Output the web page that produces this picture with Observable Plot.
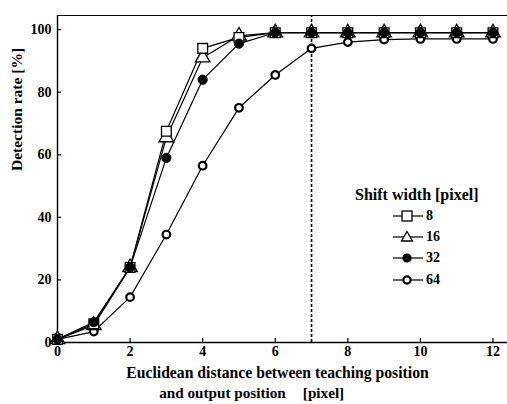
<!DOCTYPE html>
<html>
<head>
<meta charset="utf-8">
<script src="https://cdn.jsdelivr.net/npm/d3@7"></script>
<script src="https://cdn.jsdelivr.net/npm/@observablehq/plot@0.6"></script>
<style>
  html, body { margin: 0; padding: 0; background: #fff; }
  #wrap { position: relative; width: 507px; height: 404px; font-family: "Liberation Serif", "Times New Roman", serif; }
  #legend { position: absolute; left: 355px; top: 185px; color: #000; }
  #legend .title { font-size: 16px; font-weight: bold; white-space: nowrap; line-height: 20px; }
  #legend .item { display: flex; align-items: center; height: 21.3px; margin-left: 38px; font-size: 14px; font-weight: bold; }
  #legend svg { display: block; margin-right: 3px; }
</style>
</head>
<body>
<div id="wrap"></div>
<script>
// ---- data ----
const distances = [0, 1, 2, 3, 4, 5, 6, 7, 8, 9, 10, 11, 12];
const shift8  = [1, 6, 24, 67.5, 94, 97.5, 99, 99, 99, 99, 99, 99, 99];
const shift16 = [1, 5.5, 24, 65.5, 91, 98, 99, 99, 99, 99, 99, 99, 99];
const shift32 = [1, 6.5, 24, 59, 84, 95.5, 99, 99, 99, 99, 99, 99, 99];
const shift64 = [1, 3.5, 14.5, 34.5, 56.5, 75, 85.5, 94, 96, 96.8, 97, 97, 97];
const seriesNames = ["8", "16", "32", "64"];
const xTicks = [0, 2, 4, 6, 8, 10, 12];
const yTicks = [0, 20, 40, 60, 80, 100];
const markerLine = 7; // vertical dashed line at distance 7

const seriesValues = [shift8, shift16, shift32, shift64];
const rows = seriesNames.flatMap((name, k) =>
  distances.map((d, i) => ({series: name, x: d, y: seriesValues[k][i]})));
const bySeries = name => rows.filter(r => r.series === name);

const xMax = 12.4, yMax = 104.5;
const font = '"Liberation Serif", "Times New Roman", serif';

const chart = Plot.plot({
  width: 507,
  height: 404,
  marginLeft: 57,
  marginRight: 0,
  marginTop: 15,
  marginBottom: 62,
  style: {fontFamily: font, fontSize: "14px", color: "#000", background: "#fff"},
  x: {domain: [0, xMax]},
  y: {domain: [0, yMax]},
  marks: [
    // frame (top, left, bottom)
    Plot.ruleY([yMax], {stroke: "#000", strokeWidth: 1.2}),
    Plot.ruleX([0], {stroke: "#000", strokeWidth: 1.4}),
    Plot.ruleY([0], {stroke: "#000", strokeWidth: 1.4}),
    // inward ticks
    Plot.ruleX(xTicks, {y1: 0, y2: 1.3, stroke: "#000", strokeWidth: 1.2}),
    Plot.ruleY(yTicks, {x1: 0, x2: 0.11, stroke: "#000", strokeWidth: 1.2}),
    Plot.axisX({ticks: xTicks, tickSize: 0, tickPadding: 4, fontWeight: "bold", fontSize: 14, label: null}),
    Plot.axisY({ticks: yTicks, tickSize: 0, tickPadding: 6, fontWeight: "bold", fontSize: 14, label: null}),
    // dashed line
    Plot.ruleX([markerLine], {y1: 0, y2: yMax, stroke: "#000", strokeWidth: 1.6, strokeDasharray: "3,2"}),
    // lines
    Plot.line(bySeries("64"), {x: "x", y: "y", stroke: "#000", strokeWidth: 1.2}),
    Plot.line(bySeries("32"), {x: "x", y: "y", stroke: "#000", strokeWidth: 1.2}),
    Plot.line(bySeries("16"), {x: "x", y: "y", stroke: "#000", strokeWidth: 1.2}),
    Plot.line(bySeries("8"), {x: "x", y: "y", stroke: "#000", strokeWidth: 1.2}),
    // markers
    Plot.dot(bySeries("64"), {x: "x", y: "y", symbol: "circle", r: 3.8, fill: "#fff", stroke: "#000", strokeWidth: 2.2}),
    Plot.dot(bySeries("16"), {x: "x", y: "y", symbol: "triangle", r: 5.4, fill: "#fff", stroke: "#000", strokeWidth: 1.3}),
    Plot.dot(bySeries("8"), {x: "x", y: "y", symbol: "square", r: 5.5, fill: "#fff", stroke: "#000", strokeWidth: 1.3}),
    Plot.dot(bySeries("32"), {x: "x", y: "y", symbol: "circle", r: 4.6, fill: "#000", stroke: "#000", strokeWidth: 1}),
    // axis titles
    Plot.text(["Euclidean distance between teaching position"], {frameAnchor: "bottom", dy: 30, dx: -5, text: d => d, fontSize: 15.7, fontWeight: "bold", lineAnchor: "middle"}),
    Plot.text(["and output position"], {frameAnchor: "bottom", dy: 51, dx: -60, text: d => d, fontSize: 15.2, fontWeight: "bold", lineAnchor: "middle"}),
    Plot.text(["[pixel]"], {frameAnchor: "bottom", dy: 51, dx: 41, text: d => d, fontSize: 15.2, fontWeight: "bold", lineAnchor: "middle"}),
    Plot.text(["Detection rate [%]"], {frameAnchor: "left", dx: -40, dy: -8, rotate: -90, text: d => d, fontSize: 15.5, fontWeight: "bold", lineAnchor: "middle"})
  ]
});

const wrap = document.getElementById("wrap");
wrap.appendChild(chart);

// legend
const legend = document.createElement("div");
legend.id = "legend";
const title = document.createElement("div");
title.className = "title";
title.textContent = "Shift width [pixel]";
legend.appendChild(title);
const legendSymbols = {
  "8":  '<rect x="9" y="5" width="10" height="10" fill="#fff" stroke="#000" stroke-width="1.3"/>',
  "16": '<path d="M14,4.5 L19.5,14 L8.5,14 Z" fill="#fff" stroke="#000" stroke-width="1.3"/>',
  "32": '<circle cx="14" cy="10" r="4.6" fill="#000"/>',
  "64": '<circle cx="14" cy="10" r="3.6" fill="#fff" stroke="#000" stroke-width="2.2"/>'
};
seriesNames.forEach(name => {
  const item = document.createElement("div");
  item.className = "item";
  item.innerHTML = '<svg width="30" height="20"><line x1="0" y1="10" x2="30" y2="10" stroke="#000" stroke-width="1.2"/>' +
    legendSymbols[name] + '</svg><span>' + name + '</span>';
  legend.appendChild(item);
});
wrap.appendChild(legend);
</script>
</body>
</html>
